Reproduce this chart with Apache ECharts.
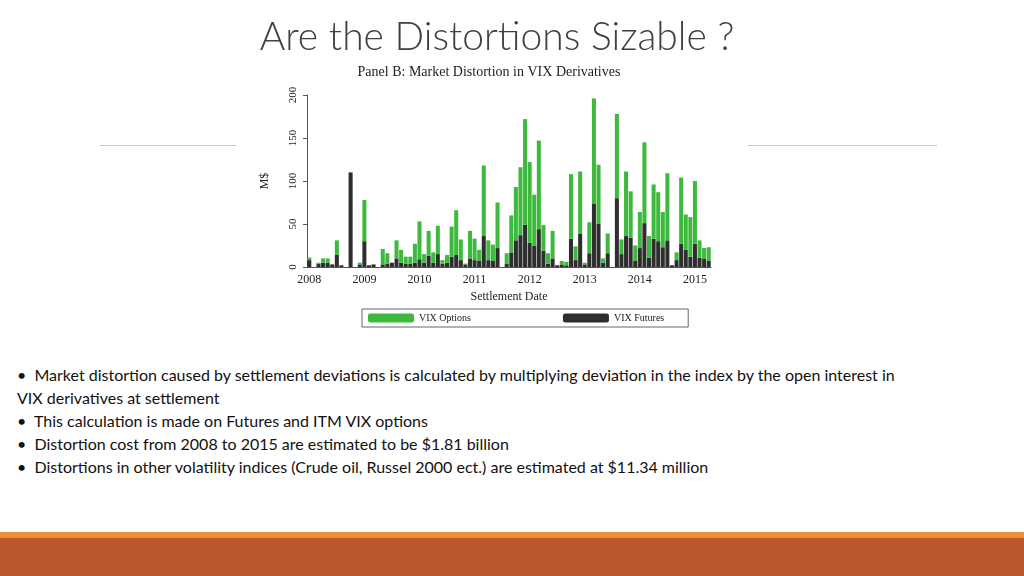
<!DOCTYPE html>
<html>
<head>
<meta charset="utf-8">
<script src="https://cdn.jsdelivr.net/npm/echarts@6/dist/echarts.min.js"></script>
<style>
body{margin:0;width:1024px;height:576px;background:#fff;position:relative;overflow:hidden;font-family:Lato,"Open Sans",sans-serif}
#title{position:absolute;left:0;width:994px;top:12px;text-align:center;font-size:39px;font-weight:300;color:#404040}
.rule{position:absolute;top:145px;height:1px;background:#c8c8c8}
#chart{position:absolute;left:0;top:0;width:1024px;height:340px}
#bullets{position:absolute;left:17px;top:363px;width:1000px;font-size:16px;line-height:23px;color:#111}
#bar1{position:absolute;left:0;top:532px;width:1024px;height:6px;background:#e8913a}
#bar2{position:absolute;left:0;top:538px;width:1024px;height:38px;background:#bd582c}
</style>
</head>
<body>
<div class="rule" style="left:100px;width:136px"></div>
<div class="rule" style="left:748px;width:189px"></div>
<div id="chart"></div>
<div id="title">Are the Distortions Sizable ?</div>
<div id="bullets">
<div>•&nbsp;&nbsp;Market distortion caused by settlement deviations is calculated by multiplying deviation in the index by the open interest in<br>VIX derivatives at settlement</div>
<div>•&nbsp;&nbsp;This calculation is made on Futures and ITM VIX options</div>
<div>•&nbsp;&nbsp;Distortion cost from 2008 to 2015 are estimated to be $1.81 billion</div>
<div>•&nbsp;&nbsp;Distortions in other volatility indices (Crude oil, Russel 2000 ect.) are estimated at $11.34 million</div>
</div>
<div id="bar1"></div>
<div id="bar2"></div>
<script>
// monthly settlements, Jan 2008 .. Apr 2015
var months = [];
for (var y = 2008; y <= 2015; y++) for (var m = 1; m <= 12; m++) if (y < 2015 || m <= 4) months.push(y + '-' + m);

// total distortion (M$) per month
var total = [11,0,5,10,10,3,31,2,0,110,0,5,
  78,2,3,0,21,16,5,31,20,12,12,27,
  53,15,42,17,48,8,14,47,66,32,4,42,
  33,20,118,31,26,75,0,16,60,93,116,172,
  122,84,147,49,16,42,2,7,6,108,24,111,
  5,52,196,119,10,39,0,178,32,111,88,25,
  64,145,36,96,87,64,109,2,17,104,61,58,
  100,31,22,23];
// VIX futures part
var futures = [8,0,4,5,5,3,14,2,0,110,0,3,
  30,2,3,0,3,4,5,10,5,4,4,5,
  9,5,13,5,15,4,5,12,14,8,3,10,
  8,7,36,8,7,22,0,4,17,31,37,49,
  28,25,44,19,4,10,2,3,2,33,8,39,
  3,16,74,50,5,16,0,80,15,36,34,7,
  22,51,11,33,30,23,31,2,8,27,20,12,
  27,11,10,7];
var options = total.map(function(t, i){ return Math.max(t - futures[i], 0); });

var chart = echarts.init(document.getElementById('chart'));
var serif = '"Liberation Serif","DejaVu Serif",serif';
chart.setOption({
	animation: false,
	title: {
		text: 'Panel B: Market Distortion in VIX Derivatives',
		left: 484, top: 60, textAlign: 'center',
		textStyle: {fontFamily: serif, fontWeight: 'normal', fontSize: 14, color: '#222'}
	},
	legend: {
		left: 362, top: 309, orient: 'horizontal',
		itemWidth: 46, itemHeight: 9, itemGap: 92,
		borderColor: '#666', borderWidth: 1, borderRadius: 0, padding: [4, 24, 4, 6],
		textStyle: {fontFamily: serif, fontSize: 10, color: '#222'},
		data: ['VIX Options', 'VIX Futures']
	},
	grid: {left: 307, top: 95, width: 404, height: 172},
	xAxis: {
		type: 'category', data: months,
		name: 'Settlement Date', nameLocation: 'middle', nameGap: 22,
		nameTextStyle: {fontFamily: serif, fontSize: 12, color: '#222'},
		axisLine: {lineStyle: {color: '#555'}},
		axisTick: {alignWithLabel: true, interval: function(i){ return i % 12 === 0; }, length: 4},
		axisLabel: {
			interval: function(i){ return i % 12 === 0; },
			formatter: function(v){ return v.split('-')[0]; },
			fontFamily: serif, fontSize: 12, color: '#222', margin: 7
		}
	},
	yAxis: {
		type: 'value', min: 0, max: 200, interval: 50,
		name: 'M$', nameLocation: 'middle', nameGap: 36, nameRotate: 90,
		nameTextStyle: {fontFamily: serif, fontSize: 12, color: '#222'},
		axisLine: {show: true, lineStyle: {color: '#555'}},
		axisTick: {show: true, length: 4},
		splitLine: {show: false},
		axisLabel: {rotate: 90, fontFamily: serif, fontSize: 11, color: '#222', margin: 8}
	},
	series: [
		{name: 'VIX Futures', type: 'bar', stack: 'd', data: futures, barWidth: '88%',
			itemStyle: {color: '#2e2e2e'}},
		{name: 'VIX Options', type: 'bar', stack: 'd', data: options, barWidth: '88%',
			itemStyle: {color: '#3dba3d'}}
	]
});
</script>
</body>
</html>
